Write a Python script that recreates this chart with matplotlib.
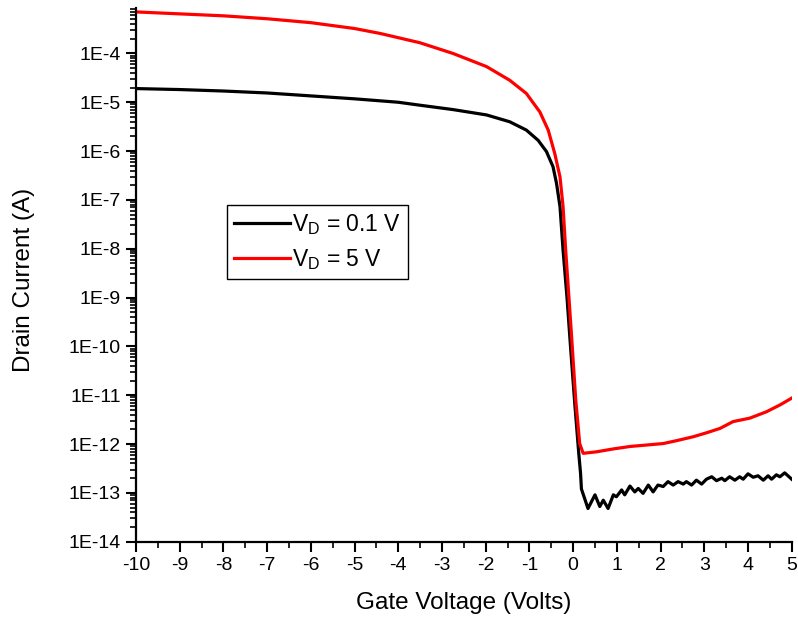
import numpy as np
import matplotlib
matplotlib.use("Agg")
import matplotlib.pyplot as plt
from matplotlib.ticker import MultipleLocator, LogLocator, FuncFormatter, NullFormatter

plt.rcParams['font.family'] = 'Liberation Sans'
plt.rcParams['mathtext.fontset'] = 'custom'
plt.rcParams['mathtext.rm'] = 'Liberation Sans'

# gate sweep, VD = 0.1 V  (log10 of drain current)
vg_low = [-10.0, -9.0, -8.0, -7.0, -6.0, -5.0, -4.0, -3.51, -2.75, -1.98, -1.45,
          -1.07, -0.80, -0.61, -0.46, -0.38, -0.30, -0.23, -0.14, -0.06, 0.04,
          0.13, 0.17, 0.19, 0.34, 0.50, 0.61, 0.69, 0.80, 0.92, 0.99, 1.11, 1.18,
          1.30, 1.41, 1.49, 1.60, 1.72, 1.83, 1.94, 2.06, 2.17, 2.29, 2.40, 2.52,
          2.59, 2.71, 2.82, 2.94, 3.05, 3.17, 3.28, 3.40, 3.47, 3.58, 3.70, 3.81,
          3.89, 4.00, 4.12, 4.23, 4.35, 4.46, 4.54, 4.65, 4.73, 4.84, 5.0]
logid_low = [-4.72, -4.74, -4.77, -4.81, -4.87, -4.93, -5.00, -5.06, -5.15, -5.26,
             -5.40, -5.57, -5.78, -6.01, -6.32, -6.66, -7.14, -8.03, -9.00, -10.00,
             -11.20, -12.20, -12.60, -12.92, -13.32, -13.04, -13.28, -13.15, -13.32,
             -13.04, -13.08, -12.94, -13.04, -12.86, -12.98, -12.91, -13.01, -12.84,
             -12.98, -12.84, -12.87, -12.77, -12.84, -12.77, -12.82, -12.77, -12.84,
             -12.74, -12.82, -12.72, -12.67, -12.75, -12.70, -12.75, -12.67, -12.74,
             -12.67, -12.72, -12.61, -12.68, -12.65, -12.74, -12.65, -12.72, -12.63,
             -12.67, -12.59, -12.72]

# gate sweep, VD = 5 V
vg_high = [-10.0, -9.0, -8.0, -7.0, -6.0, -5.0, -4.42, -3.51, -2.75, -1.98, -1.45,
           -1.07, -0.76, -0.57, -0.42, -0.30, -0.23, -0.17, -0.04, 0.06, 0.15,
           0.23, 0.53, 0.92, 1.30, 1.68, 2.06, 2.37, 2.75, 3.05, 3.36, 3.66, 4.04,
           4.42, 4.73, 5.0]
logid_high = [-3.15, -3.19, -3.23, -3.29, -3.37, -3.49, -3.59, -3.78, -4.00, -4.27,
              -4.55, -4.82, -5.20, -5.57, -6.05, -6.53, -7.14, -8.03, -9.73, -11.10,
              -11.99, -12.19, -12.16, -12.10, -12.05, -12.02, -11.99, -11.93, -11.85,
              -11.77, -11.68, -11.54, -11.47, -11.34, -11.20, -11.06]

fig = plt.figure(figsize=(7.98, 6.21), dpi=100)
ax = fig.add_axes([0.1704, 0.1277, 0.8217, 0.8594])

ax.plot(vg_low, 10.0 ** np.array(logid_low), color='black', lw=2.3,
        label=r'V$_\mathregular{D}$ = 0.1 V')
ax.plot(vg_high, 10.0 ** np.array(logid_high), color='#ff0000', lw=2.3,
        label=r'V$_\mathregular{D}$ = 5 V')

ax.set_yscale('log')
ax.set_xlim(-10, 5)
ax.set_ylim(1e-14, 10 ** -3.07)

ax.xaxis.set_major_locator(MultipleLocator(1))
ax.xaxis.set_minor_locator(MultipleLocator(0.5))
ax.xaxis.set_major_formatter(FuncFormatter(lambda v, p: '%d' % round(v)))
ax.yaxis.set_major_locator(LogLocator(base=10, numticks=100))
ax.yaxis.set_minor_locator(LogLocator(base=10, subs=np.arange(2, 10), numticks=100))
ax.yaxis.set_major_formatter(FuncFormatter(lambda v, p: '1E%d' % round(np.log10(v))))
ax.yaxis.set_minor_formatter(NullFormatter())

for s in ['top', 'right']:
    ax.spines[s].set_visible(False)
for s in ['left', 'bottom']:
    ax.spines[s].set_linewidth(1.6)

ax.tick_params(which='major', direction='out', length=7, width=1.5, labelsize=14, pad=4)
ax.tick_params(which='minor', direction='out', length=4, width=1.2)

ax.set_xlabel('Gate Voltage (Volts)', fontsize=17.5)
ax.set_ylabel('Drain Current (A)', fontsize=17.5)
ax.xaxis.set_label_coords(0.5, -0.094)
ax.yaxis.set_label_coords(-0.154, 0.49)

leg = ax.legend(loc='upper left', bbox_to_anchor=(0.139, 0.631), borderaxespad=0,
                fontsize=16.5, handlelength=2.45, handletextpad=0.1, labelspacing=0.45,
                borderpad=0.3, fancybox=False, framealpha=1, edgecolor='black')
leg.get_frame().set_linewidth(1.0)
for line in leg.get_lines():
    line.set_linewidth(2.3)

fig.savefig('out.png', dpi=100)
